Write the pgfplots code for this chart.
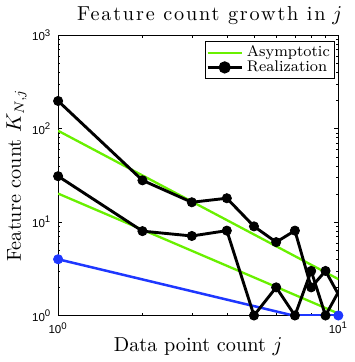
\documentclass[border=0pt]{standalone}
\usepackage{fontspec}
\usepackage{pgfplots}
\pgfplotsset{compat=1.18}
\newfontfamily\hel{Liberation Sans}
\newfontfamily\wide{Latin Modern Roman}[LetterSpace=9]
\definecolor{asgreen}{RGB}{105,240,0}
\definecolor{reblue}{RGB}{30,55,255}

\begin{document}
\begin{tikzpicture}
\begin{loglogaxis}[
  width=145.5pt, height=145.5pt, scale only axis,
  xmin=1, xmax=10, ymin=1, ymax=1000,
  xtick={1,10},
  xticklabels={{\hel 10\textsuperscript{0}},{\hel 10\textsuperscript{1}}},
  ytick={1,10,100,1000},
  yticklabels={{\hel 10\textsuperscript{0}},{\hel 10\textsuperscript{1}},{\hel 10\textsuperscript{2}},{\hel 10\textsuperscript{3}}},
  minor xtick={2,3,4,5,6,7,8,9},
  minor ytick={2,3,4,5,6,7,8,9,20,30,40,50,60,70,80,90,200,300,400,500,600,700,800,900},
  tick align=inside, major tick length=2pt, minor tick length=1.2pt,
  tick style={black, line width=0.3pt},
  tick label style={font=\fontsize{6}{6}\selectfont},
  axis line style={line width=0.4pt},
  title={{\wide Feature count growth in} $j$},
  title style={font=\fontsize{10.5}{12}\selectfont, yshift=-4pt, xshift=6pt},
  xlabel={Data point count $j$},
  ylabel={Feature count $K_{N,j}$},
  label style={font=\fontsize{10.5}{12}\selectfont},
  xlabel style={yshift=5pt},
  ylabel style={yshift=-4pt},
  legend style={at={(rel axis cs:0.986,0.979)}, anchor=north east,
    font=\fontsize{8}{8}\selectfont\addfontfeature{LetterSpace=9}, draw=black, line width=0.4pt,
    inner sep=0.2pt, row sep=-3.5pt, cells={anchor=west}},
  legend image code/.code={
    \draw[#1] (0cm,0cm) -- (0.62cm,0cm);
    \draw[#1, only marks] plot coordinates {(0.31cm,0cm)};},
]
% asymptotic curves
\addplot[asgreen, line width=1.2pt, forget plot] coordinates {(1,95)(10,2.45)};
\addplot[asgreen, line width=1.2pt, forget plot] coordinates {(1,20.2)(10,1.05)};
% blue realization
\addplot[reblue, line width=1.3pt, forget plot] coordinates {(1,4)(6.9,1)(10,1)};
\addplot[reblue, only marks, mark=*, mark size=2.4pt, forget plot] coordinates {(1,4)(10,1)};
% black realizations (lines run past j=10 and are clipped)
\addplot[black, line width=1.5pt, forget plot] coordinates
  {(1,198)(2,28)(3,16.3)(4,18)(5,9)(6,6.1)(7,8.1)(8,2)(9,3)(11,1)};
\addplot[black, line width=1.5pt, forget plot] coordinates
  {(1,31)(2,8)(3,7.1)(4,8.1)(5,1)(6,2)(7,1)(8,3)(9,1)(11,3)};
\addplot[black, only marks, mark=*, mark size=2.4pt, forget plot] coordinates
  {(1,198)(2,28)(3,16.3)(4,18)(5,9)(6,6.1)(7,8.1)(8,2)(9,3)};
\addplot[black, only marks, mark=*, mark size=2.4pt, forget plot] coordinates
  {(1,31)(2,8)(3,7.1)(4,8.1)(5,1)(6,2)(7,1)(8,3)(9,1)};
% legend
\addlegendimage{asgreen, line width=1.2pt, mark=none}
\addlegendentry{Asymptotic}
\addlegendimage{black, line width=1.5pt, mark=*, mark size=2.4pt}
\addlegendentry{Realization}
\end{loglogaxis}
\end{tikzpicture}
\end{document}
